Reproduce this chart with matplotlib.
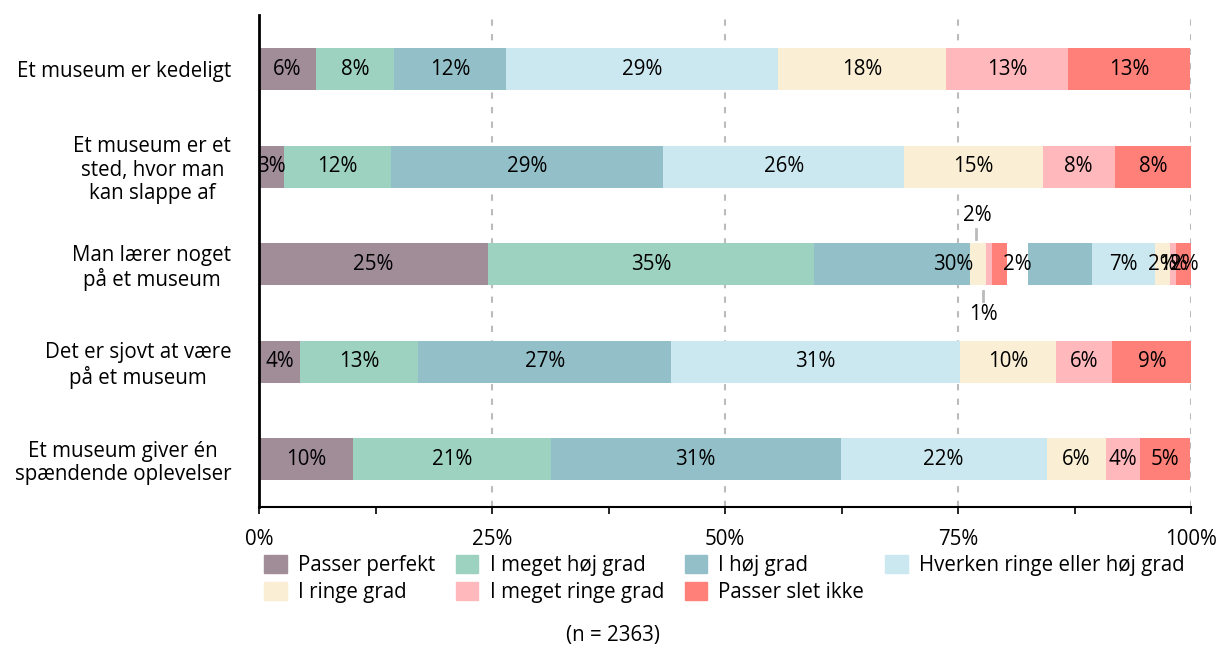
import matplotlib.pyplot as plt
from matplotlib.patches import Patch

plt.rcParams['font.family'] = ['Open Sans', 'DejaVu Sans']

# data (percent per statement)
statements = ["Et museum er kedeligt",
              "Et museum er et\nsted, hvor man\nkan slappe af",
              "Man lærer noget\npå et museum",
              "Det er sjovt at være\npå et museum",
              "Et museum giver én\nspændende oplevelser"]
series_names = ["Passer perfekt", "I meget høj grad", "I høj grad",
                "Hverken ringe eller høj grad", "I ringe grad",
                "I meget ringe grad", "Passer slet ikke"]
passer_perfekt = [6.1, 2.7, 24.6, 4.4, 10.1]
meget_hoej = [8.4, 11.5, 35.0, 12.7, 21.2]
hoej = [12.0, 29.2, 29.8, 27.1, 31.1]
hverken = [29.2, 25.8, 6.7, 31.0, 22.1]
ringe = [18.0, 14.9, 1.7, 10.3, 6.4]
meget_ringe = [13.1, 7.7, 0.6, 6.0, 3.6]
slet_ikke = [13.1, 8.3, 1.7, 8.6, 5.4]
n_total = 2363

colors = ['#a18d98', '#9dd1c0', '#93c0c8', '#cbe7ef', '#faefd4', '#ffb8bc', '#ff8079']
series = [passer_perfekt, meget_hoej, hoej, hverken, ringe, meget_ringe, slet_ikke]

FS = 14.8

fig = plt.figure(figsize=(12.17, 6.48), dpi=100)
ax = fig.add_axes([259 / 1217, 1 - 507 / 648, 932 / 1217, 492 / 648])

bar_h = 0.43
ys = list(range(len(statements)))
left = [0.0] * len(statements)
for vals, col in zip(series, colors):
    ax.barh(ys, vals, left=left, height=bar_h, color=col, zorder=2)
    for y, l, v in zip(ys, left, vals):
        ax.text(l + v / 2, y, f"{v:.0f}%", ha='center', va='center',
                fontsize=FS, color='black', zorder=4)
    left = [l + v for l, v in zip(left, vals)]

# callouts for the small values on the third row
row = 2
cx = 76.3
small = [(ringe, colors[4]), (meget_ringe, colors[5]), (slet_ikke, colors[6])]
pos = cx
for vals, col in small:
    ax.barh(row, vals[row], left=pos, height=bar_h, color=col, zorder=3)
    pos += vals[row]
ax.barh(row, 2.2, left=pos, height=bar_h, color='white', zorder=3)
ax.text(pos + 1.1, row, f"{slet_ikke[row]:.0f}%", ha='center', va='center',
        fontsize=FS, zorder=5)
ax.plot([cx + 0.6, cx + 0.6], [row - 0.256, row - 0.36], color='#bbbbbb', lw=2, zorder=3)
ax.text(cx + 0.8, row - 0.5, f"{ringe[row]:.0f}%", ha='center', va='center', fontsize=FS)
ax.plot([cx + 1.4, cx + 1.4], [row + 0.277, row + 0.38], color='#bbbbbb', lw=2, zorder=3)
ax.text(cx + 1.4, row + 0.52, f"{meget_ringe[row]:.0f}%", ha='center', va='center', fontsize=FS)

ax.set_xlim(0, 100)
ax.set_ylim(4 + 0.49, -0.554)
ax.set_yticks(ys)
ax.set_yticklabels(statements, fontsize=FS)
for lab in ax.get_yticklabels():
    lab.set_multialignment('center')
    lab.set_linespacing(1.15)
ax.tick_params(axis='y', length=0, pad=20)

ax.set_xticks([0, 25, 50, 75, 100])
ax.set_xticklabels(['0%', '25%', '50%', '75%', '100%'], fontsize=FS)
ax.set_xticks([12.5, 37.5, 62.5, 87.5], minor=True)
ax.tick_params(axis='x', which='both', length=5, width=1.2, color='black', pad=11)

for gx in [25, 50, 75, 100]:
    ax.axvline(gx, color='#bbbbbb', lw=1.5, ls=(0, (3, 4)), zorder=1)

for s in ['top', 'right']:
    ax.spines[s].set_visible(False)
ax.spines['left'].set_linewidth(2)
ax.spines['bottom'].set_linewidth(1.5)
ax.spines['left'].set_zorder(5)

handles = [Patch(color=c, label=nm) for c, nm in zip(colors, series_names)]
order = [0, 4, 1, 5, 2, 6, 3]
fig.legend([handles[i] for i in order], [series_names[i] for i in order],
           ncol=4, loc='upper left', bbox_to_anchor=(264 / 1217, 1 - 555 / 648),
           frameon=False, fontsize=FS, handlelength=1.1, handleheight=0.95,
           handletextpad=0.55, columnspacing=1.0, borderpad=0, borderaxespad=0,
           labelspacing=0.3)

fig.text(613 / 1217, 1 - 636 / 648, f"(n = {n_total})", ha='center', va='center', fontsize=FS)

fig.savefig('out.png', dpi=100)
